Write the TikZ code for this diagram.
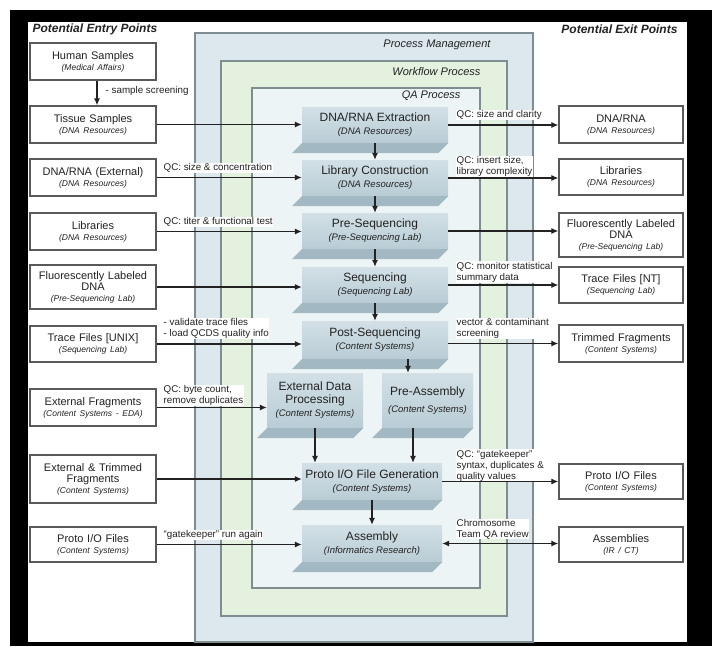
\documentclass[tikz,border=0pt]{standalone}
\usepackage{fontspec}
\setmainfont{Liberation Sans}
\usetikzlibrary{arrows.meta,calc}
\definecolor{pmfill}{HTML}{DCE8EE}
\definecolor{wffill}{HTML}{E3F1DE}
\definecolor{qafill}{HTML}{EDF4F5}
\definecolor{framec}{HTML}{7E8E90}
\definecolor{facetop}{HTML}{D2E0E6}
\definecolor{facebot}{HTML}{B9CCD5}
\definecolor{slabc}{HTML}{A2B8C2}
\definecolor{ink}{HTML}{222222}
\newcommand{\subt}[1]{\\[-1pt]{\fontsize{8.5}{10}\selectfont\itshape #1}}
\newcommand{\subp}[1]{\\{\fontsize{9.5}{11}\selectfont\itshape #1}}
\begin{document}
\begin{tikzpicture}[x=1pt,y=-1pt,
  iobox/.style={draw=black!65, line width=1.4pt, fill=white, text width=120pt, inner xsep=3pt, inner ysep=1pt,
    align=center, font=\fontsize{11}{12}\selectfont, text=ink},
  outbox/.style={iobox, text width=118pt},
  proc/.style={top color=facetop, bottom color=facebot, minimum width=146pt, minimum height=36pt,
    inner sep=0pt, align=center, font=\fontsize{12}{13}\selectfont, text=ink},
  arr/.style={-{Latex[length=7pt,width=6pt]}, line width=1.1pt, draw=ink},
  arrb/.style={{Latex[length=7pt,width=6pt]}-{Latex[length=7pt,width=6pt]}, line width=1.1pt, draw=ink},
  lab/.style={font=\fontsize{9.8}{11}\selectfont, text=ink, fill=white, inner sep=0.5pt, align=left, anchor=west},
  clab/.style={font=\fontsize{11}{12}\selectfont\itshape, text=ink, anchor=east},
  ttl/.style={font=\fontsize{12}{14}\selectfont\bfseries\itshape, text=ink},
  cont/.style={draw=framec, line width=1.2pt}
]
\useasboundingbox (0,0) rectangle (712,646);
% frame
\fill[black] (10,10) rectangle (712,646);
\fill[white] (28,22) rectangle (687,642);
% containers
\draw[cont, fill=pmfill] (195,33) rectangle (533,642);
\draw[cont, fill=wffill] (221,61) rectangle (507,616);
\draw[cont, fill=qafill] (252,88) rectangle (480,588);
\node[clab] (lpm) at (494,45) {Process Management};
\node[clab] (lwf) at (484,72) {Workflow Process};
\node[clab] (lqa) at (464,96) {QA Process};
% titles
\node[ttl, anchor=west] (tin) at (29,29) {Potential Entry Points};
\node[ttl, anchor=east] (tout) at (681,29) {Potential Exit Points};
% entry boxes
\node[iobox, minimum height=37pt] (hum) at (93,61.5) {Human Samples\subt{(Medical Affairs)}};
\node[iobox, minimum height=37pt] (tis) at (93,124.5) {Tissue Samples\subt{(DNA Resources)}};
\node[iobox, minimum height=37pt] (dnax) at (93,177.5) {DNA/RNA (External)\subt{(DNA Resources)}};
\node[iobox, minimum height=37pt] (libs) at (93,231.5) {Libraries\subt{(DNA Resources)}};
\node[iobox, minimum height=44pt] (fluo) at (93,287) {Fluorescently Labeled\\[-1pt]DNA\subt{(Pre-Sequencing Lab)}};
\node[iobox, minimum height=36pt] (trcu) at (93,344) {Trace Files [UNIX]\subt{(Sequencing Lab)}};
\node[iobox, minimum height=37pt] (efr) at (93,407.5) {External Fragments\subt{(Content Systems - EDA)}};
\node[iobox, minimum height=48pt] (etr) at (93,479) {External \& Trimmed\\[-1pt]Fragments\subt{(Content Systems)}};
\node[iobox, minimum height=35pt] (pin) at (93,544.5) {Proto I/O Files\subt{(Content Systems)}};
% exit boxes
\node[outbox, minimum height=37pt] (odna) at (621,124.5) {DNA/RNA\subt{(DNA Resources)}};
\node[outbox, minimum height=36pt] (olib) at (621,177) {Libraries\subt{(DNA Resources)}};
\node[outbox, minimum height=44pt] (oflu) at (621,235) {Fluorescently Labeled\\[-1pt]DNA\subt{(Pre-Sequencing Lab)}};
\node[outbox, minimum height=36pt] (otrc) at (621,285) {Trace Files [NT]\subt{(Sequencing Lab)}};
\node[outbox, minimum height=37pt] (otrm) at (621,343.5) {Trimmed Fragments\subt{(Content Systems)}};
\node[outbox, minimum height=35pt] (opro) at (621,481.5) {Proto I/O Files\subt{(Content Systems)}};
\node[outbox, minimum height=35pt] (oasm) at (621,544.5) {Assemblies\subt{(IR / CT)}};
% process faces
\node[proc] (ext) at (375,125) {DNA/RNA Extraction\subp{(DNA Resources)}};
\node[proc] (lib) at (375,178) {Library Construction\subp{(DNA Resources)}};
\node[proc] (pseq) at (375,231) {Pre-Sequencing\subp{(Pre-Sequencing Lab)}};
\node[proc] (seq) at (375,285) {Sequencing\subp{(Sequencing Lab)}};
\node[proc, minimum height=38pt] (post) at (375,340) {Post-Sequencing\subp{(Content Systems)}};
\node[proc, minimum width=96pt, minimum height=55pt] (edp) at (315,400.5) {External Data\\Processing\subp{(Content Systems)}};
\node[proc, minimum width=91pt, minimum height=55pt] (pre) at (427.5,400.5) {Pre-Assembly\\[4pt]{\fontsize{9.5}{11}\selectfont\itshape (Content Systems)}};
\node[proc, minimum width=140pt, minimum height=37pt] (proto) at (372,481.5) {Proto I/O File Generation\subp{(Content Systems)}};
\node[proc, minimum width=140pt, minimum height=37pt] (asm) at (372,543.5) {Assembly\subp{(Informatics Research)}};
% slabs
\foreach \n in {ext,lib,pseq,seq,post,edp,pre,proto,asm}{
  \fill[slabc] (\n.south west) -- (\n.south east) -- ([shift={(-10pt,-10pt)}]\n.south east)
    -- ([shift={(-10pt,-10pt)}]\n.south west) -- cycle;
}
% labels
\node[lab] (l0) at (105,91) {- sample screening};
\node[lab] (l1) at (163,168) {QC: size \& concentration};
\node[lab] (l2) at (163,222) {QC: titer \& functional test};
\node[lab] (l3) at (163,328.5) {- validate trace files\\- load QCDS quality info};
\node[lab] (l4) at (163,395.5) {QC: byte count,\\remove duplicates};
\node[lab] (l5) at (163,535) {``gatekeeper'' run again};
\node[lab] (r1) at (456,115) {QC: size and clarity};
\node[lab] (r2) at (456,166.5) {QC: insert size,\\library complexity};
\node[lab] (r3) at (456,272) {QC: monitor statistical\\summary data};
\node[lab] (r4) at (456,328.5) {vector \& contaminant\\screening};
\node[lab] (r5) at (456,465.5) {QC: ``gatekeeper''\\syntax, duplicates \&\\quality values};
\node[lab] (r6) at (456,529) {Chromosome\\Team QA review};
% arrows
\draw[arr] ([xshift=4pt]hum.south) -- ([xshift=4pt]tis.north);
\draw[arr] (tis.east) -- (tis.east -| ext.west);
\draw[arr] (dnax.east) -- (dnax.east -| lib.west);
\draw[arr] (libs.east) -- (libs.east -| pseq.west);
\draw[arr] (fluo.east) -- (fluo.east -| seq.west);
\draw[arr] (trcu.east) -- (trcu.east -| post.west);
\draw[arr] (efr.east) -- (efr.east -| edp.west);
\draw[arr] (etr.east) -- (etr.east -| proto.west);
\draw[arr] (pin.east) -- (pin.east -| asm.west);
\draw[arr] (ext.east) -- (ext.east -| odna.west);
\draw[arr] (lib.east) -- (lib.east -| olib.west);
\draw[arr] (pseq.east) -- (pseq.east -| oflu.west);
\draw[arr] (seq.east) -- (seq.east -| otrc.west);
\draw[arr] (post.east |- otrm.west) -- (otrm.west);
\draw[arr] (proto.east) -- (proto.east -| opro.west);
\draw[arrb] (asm.east) -- (asm.east -| oasm.west);
\draw[arr] (ext.south) -- (lib.north);
\draw[arr] (lib.south) -- (pseq.north);
\draw[arr] (pseq.south) -- (seq.north);
\draw[arr] (seq.south) -- (post.north);
\draw[arr] ([xshift=-19.5pt]pre.north |- post.south) -- ([xshift=-19.5pt]pre.north);
\draw[arr] (edp.south) -- (edp.south |- proto.north);
\draw[arr] ([xshift=-14.5pt]pre.south) -- ([xshift=-14.5pt]pre.south |- proto.north);
\draw[arr] (proto.south) -- (asm.north);
\end{tikzpicture}
\end{document}
